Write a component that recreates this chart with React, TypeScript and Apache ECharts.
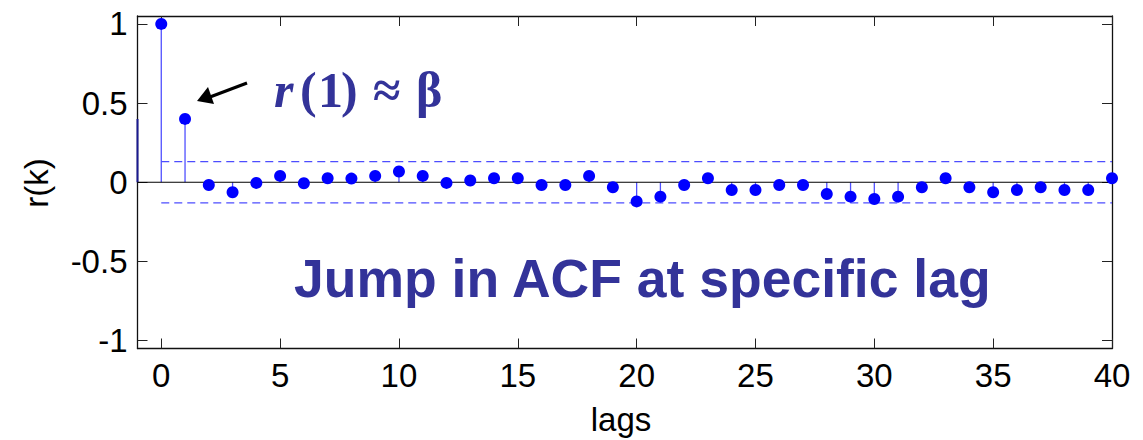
import React, { useEffect, useRef } from "react";
import * as echarts from "echarts";

const lags = [0, 1, 2, 3, 4, 5, 6, 7, 8, 9, 10, 11, 12, 13, 14, 15, 16, 17, 18, 19, 20,
  21, 22, 23, 24, 25, 26, 27, 28, 29, 30, 31, 32, 33, 34, 35, 36, 37, 38, 39, 40];
const acf = [1.0, 0.40, -0.017, -0.063, -0.004, 0.040, -0.006, 0.025, 0.023, 0.040, 0.068,
  0.040, -0.004, 0.011, 0.025, 0.025, -0.017, -0.017, 0.040, -0.032, -0.121,
  -0.091, -0.017, 0.025, -0.049, -0.049, -0.017, -0.017, -0.074, -0.091, -0.106,
  -0.091, -0.032, 0.025, -0.032, -0.063, -0.049, -0.032, -0.049, -0.049, 0.025];
const confBound = 0.13;
const xTicks = [0, 5, 10, 15, 20, 25, 30, 35, 40];
const yTicks = [-1, -0.5, 0, 0.5, 1];
const xRange = [-1, 40];
const yRange = [-1.05, 1.05];

const FONT = "'Liberation Sans', Arial, sans-serif";
const SERIF = "'Liberation Serif', 'Times New Roman', serif";
const TXT = "#333399";

export default function App() {
  const ref = useRef<HTMLDivElement>(null);
  useEffect(() => {
    if (!ref.current) return;
    const chart = echarts.init(ref.current, undefined, { renderer: "svg" });
    const pts = lags.map((l, i) => [l, acf[i]]);
    const axisLine = { show: true, onZero: false, lineStyle: { color: "#111", width: 1.3 } };
    const tickStyle = { color: "#222", width: 1 };
    const labelStyle = { fontSize: 33, fontFamily: FONT, color: "#000" };
    const eq = (text: string, x: number, italic = false) => ({
      type: "text", x, y: 90,
      style: {
        text, fontSize: 50, fontWeight: "bold", fontStyle: italic ? "italic" : "normal",
        fontFamily: SERIF, fill: TXT, verticalAlign: "middle",
      },
    });
    const option: any = {
      animation: false,
      grid: { left: 137.5, right: 31, top: 16, bottom: 91.5, show: false },
      xAxis: [
        {
          type: "value", min: xRange[0], max: xRange[1], position: "bottom",
          axisLine, splitLine: { show: false },
          axisTick: { show: true, inside: true, length: 10, lineStyle: tickStyle, customValues: xTicks },
          axisLabel: { ...labelStyle, margin: 10, customValues: xTicks, formatter: (v: number) => String(v) },
        },
        {
          type: "value", min: xRange[0], max: xRange[1], position: "top",
          axisLine, splitLine: { show: false },
          axisTick: { show: true, inside: true, length: 10, lineStyle: tickStyle, customValues: xTicks },
          axisLabel: { show: false },
        },
      ],
      yAxis: [
        {
          type: "value", min: yRange[0], max: yRange[1], position: "left",
          axisLine, splitLine: { show: false },
          axisTick: { show: true, inside: true, length: 10, lineStyle: tickStyle, customValues: yTicks },
          axisLabel: { ...labelStyle, margin: 10, customValues: yTicks, formatter: (v: number) => String(v) },
        },
        {
          type: "value", min: yRange[0], max: yRange[1], position: "right",
          axisLine, splitLine: { show: false },
          axisTick: { show: true, inside: true, length: 10, lineStyle: tickStyle, customValues: yTicks },
          axisLabel: { show: false },
        },
      ],
      series: [
        {
          type: "line", data: [[xRange[0], 0], [xRange[0], acf[1]]], symbol: "none",
          lineStyle: { color: "#1a1a90", width: 2 }, silent: true, z: 3,
        },
        {
          type: "line", data: [[0, confBound], [40, confBound]], symbol: "none",
          lineStyle: { color: "#4d4dff", width: 1.2, type: [8, 5] }, silent: true, z: 2,
        },
        {
          type: "line", data: [[0, -confBound], [40, -confBound]], symbol: "none",
          lineStyle: { color: "#4d4dff", width: 1.2, type: [8, 5] }, silent: true, z: 2,
        },
        {
          type: "custom", data: pts, z: 3, clip: false,
          renderItem: (params: any, api: any) => {
            const x = api.value(0);
            const y = api.value(1);
            const p0 = api.coord([x, 0]);
            const p1 = api.coord([x, y]);
            return {
              type: "line",
              shape: { x1: p0[0], y1: p0[1], x2: p1[0], y2: p1[1] },
              style: { stroke: "#5050ff", lineWidth: 1.3 },
            };
          },
        },
        {
          type: "line", data: [[xRange[0], 0], [xRange[1], 0]], symbol: "none",
          lineStyle: { color: "#000", width: 1.2 }, silent: true, z: 4,
        },
        {
          type: "scatter", data: pts, symbol: "circle", symbolSize: 12, clip: false,
          itemStyle: { color: "#0000ff", opacity: 1 }, z: 5,
        },
      ],
      graphic: [
        {
          type: "text", x: 36, y: 183, rotation: Math.PI / 2,
          style: { text: "r(k)", fontSize: 33, fontFamily: FONT, fill: "#000", align: "center", verticalAlign: "middle" },
        },
        {
          type: "text", x: 621, y: 419,
          style: { text: "lags", fontSize: 33, fontFamily: FONT, fill: "#000", align: "center", verticalAlign: "middle" },
        },
        {
          type: "text", x: 294, y: 278,
          style: { text: "Jump in ACF at specific lag", fontSize: 53.5, fontWeight: "bold", fontFamily: FONT, fill: TXT, align: "left", verticalAlign: "middle" },
        },
        eq("r", 274, true),
        eq("(", 300),
        eq("1", 318),
        eq(")", 341),
        eq("≈", 373),
        eq("β", 416),
        {
          type: "line", shape: { x1: 247, y1: 83, x2: 210, y2: 97 },
          style: { stroke: "#000", lineWidth: 3.2 },
        },
        {
          type: "polygon", shape: { points: [[197, 101], [214, 104], [208, 87]] },
          style: { fill: "#000" },
        },
      ],
    };
    chart.setOption(option);
    return () => chart.dispose();
  }, []);
  return <div ref={ref} style={{ position: "absolute", left: 0, top: 0, width: 1143, height: 440 }} />;
}
